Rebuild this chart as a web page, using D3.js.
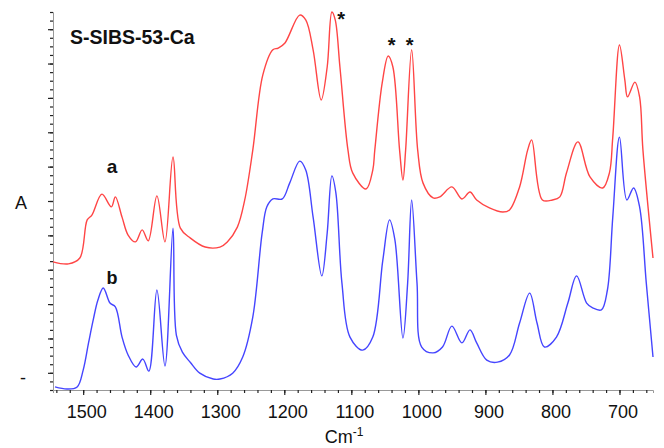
<!DOCTYPE html>
<html>
<head>
<meta charset="utf-8">
<script src="https://cdn.jsdelivr.net/npm/d3@7"></script>
<style>
  body { margin: 0; background: #fff; }
  text { font-family: "Liberation Sans", Arial, sans-serif; fill: #111; }
</style>
</head>
<body>
<div id="chart"></div>
<script>
// Spectrum a (red, offset upward) - [wavenumber, absorbance]
const spectrumA = [
  [1545, 0.323], [1522, 0.317], [1505, 0.334], [1494, 0.445], [1487, 0.459],
  [1472, 0.520], [1458, 0.483], [1452, 0.512], [1442, 0.453], [1433, 0.401],
  [1422, 0.381], [1412, 0.416], [1403, 0.384], [1390, 0.515], [1378, 0.381],
  [1366, 0.628], [1355, 0.421], [1340, 0.392], [1318, 0.366], [1296, 0.366],
  [1285, 0.381], [1270, 0.424], [1259, 0.503], [1247, 0.648], [1232, 0.867],
  [1217, 0.940], [1209, 0.945], [1199, 0.960], [1177, 1.041], [1168, 1.027],
  [1157, 0.940], [1145, 0.794], [1136, 0.890], [1129, 1.050], [1124, 1.027],
  [1117, 0.890], [1105, 0.648], [1098, 0.582], [1078, 0.535], [1068, 0.590],
  [1065, 0.648], [1054, 0.843], [1045, 0.922], [1038, 0.890], [1028, 0.648],
  [1023, 0.561], [1019, 0.648], [1010, 0.940], [1001, 0.648], [993, 0.552],
  [978, 0.509], [968, 0.512], [950, 0.541], [935, 0.506], [923, 0.526],
  [913, 0.503], [894, 0.480], [874, 0.468], [864, 0.474], [849, 0.541],
  [837, 0.648], [831, 0.678], [815, 0.503], [800, 0.503], [789, 0.512],
  [779, 0.582], [762, 0.672], [744, 0.570], [725, 0.538], [715, 0.582],
  [710, 0.686], [700, 0.954], [692, 0.852], [688, 0.803], [677, 0.846],
  [670, 0.803], [665, 0.648], [650, 0.334]
]

// Spectrum b (blue, baseline)
const spectrumB = [
  [1542, -0.041], [1524, -0.047], [1509, -0.041], [1500, 0.008], [1492, 0.087],
  [1485, 0.154], [1478, 0.212], [1470, 0.247], [1460, 0.203], [1452, 0.192],
  [1442, 0.104], [1433, 0.052], [1421, 0.017], [1411, 0.040], [1402, 0.005],
  [1390, 0.241], [1378, 0.020], [1366, 0.421], [1361, 0.110], [1352, 0.060],
  [1340, 0.030], [1326, -0.001], [1306, -0.018], [1296, -0.018], [1277, -0.001],
  [1262, 0.046], [1247, 0.162], [1233, 0.407], [1226, 0.483], [1217, 0.506],
  [1203, 0.506], [1192, 0.552], [1177, 0.616], [1168, 0.590], [1157, 0.453],
  [1144, 0.282], [1136, 0.407], [1129, 0.573], [1123, 0.523], [1114, 0.261],
  [1102, 0.104], [1083, 0.066], [1068, 0.104], [1053, 0.328], [1043, 0.445],
  [1035, 0.387], [1023, 0.101], [1016, 0.261], [1010, 0.503], [1002, 0.261],
  [995, 0.075], [978, 0.058], [964, 0.075], [950, 0.136], [935, 0.087],
  [923, 0.125], [913, 0.087], [898, 0.037], [882, 0.031], [864, 0.052],
  [849, 0.145], [834, 0.232], [823, 0.145], [812, 0.075], [794, 0.104],
  [777, 0.203], [764, 0.282], [749, 0.203], [740, 0.189], [727, 0.183],
  [718, 0.241], [710, 0.453], [700, 0.686], [689, 0.503], [679, 0.538],
  [670, 0.483], [660, 0.261], [650, 0.046]
]

const xMajorTicks = [1500, 1400, 1300, 1200, 1100, 1000, 900, 800, 700]
const yMajorTicks = [0, 0.1, 0.2, 0.3, 0.4, 0.5, 0.6, 0.7, 0.8, 0.9, 1.0]

// starred bands
const peakMarks = [[1115, 1.041], [1040, 0.966], [1013, 0.966]]

const width = 664
const height = 448
const margin = { top: 12, right: 11, bottom: 58, left: 53 }

const svg = d3.select('#chart')
  .append('svg')
  .attr('width', width)
  .attr('height', height)

const x = d3.scaleLinear()
  .domain([1545, 650])
  .range([margin.left, width - margin.right])

const y = d3.scaleLinear()
  .domain([-0.05, 1.05])
  .range([height - margin.bottom, margin.top])

// minor ticks every 20 cm-1 and every 0.025 A
const xMinor = d3.range(1540, 649, -20)
const yMinor = d3.range(-0.05, 1.0501, 0.025).map(d => +d.toFixed(3))

function styleAxis (g) {
  g.select('.domain').attr('stroke', '#999').attr('stroke-width', 1)
  g.selectAll('.tick line').attr('stroke', '#222').attr('stroke-width', 1.2)
}

// X axis
const xg = svg.append('g')
  .attr('transform', `translate(0, ${height - margin.bottom})`)
xg.append('g')
  .call(d3.axisBottom(x).tickValues(xMinor).tickSize(3).tickFormat(''))
  .call(styleAxis)
xg.append('g')
  .call(d3.axisBottom(x).tickValues(xMajorTicks).tickSize(5)
    .tickSizeOuter(0).tickPadding(10).tickFormat(d3.format('d')))
  .call(styleAxis)
  .call(g => g.select('.domain').remove())
  .selectAll('text')
  .attr('dx', 3)
  .attr('font-size', 18)
  .attr('font-family', '"Liberation Sans", Arial, sans-serif')
  .attr('fill', '#111')

// Y axis
const yg = svg.append('g')
  .attr('transform', `translate(${margin.left}, 0)`)
yg.append('g')
  .call(d3.axisLeft(y).tickValues(yMinor).tickSize(3).tickFormat(''))
  .call(styleAxis)
yg.append('g')
  .call(d3.axisLeft(y).tickValues(yMajorTicks).tickSize(5).tickFormat(''))
  .call(styleAxis)
  .call(g => g.select('.domain').remove())

// Spectra
const line = d3.line()
  .x(d => x(d[0]))
  .y(d => y(d[1]))
  .curve(d3.curveCatmullRom.alpha(0.5))

svg.append('path')
  .datum(spectrumA)
  .attr('d', line)
  .attr('fill', 'none')
  .attr('stroke', '#ff4545')
  .attr('stroke-width', 1.4)

svg.append('path')
  .datum(spectrumB)
  .attr('d', line)
  .attr('fill', 'none')
  .attr('stroke', '#4545ff')
  .attr('stroke-width', 1.4)

// Labels
svg.append('text')
  .attr('x', 70)
  .attr('y', 44)
  .attr('font-size', 19.5)
  .attr('font-weight', 'bold')
  .text('S-SIBS-53-Ca')

svg.append('text')
  .attr('x', 112)
  .attr('y', 173)
  .attr('text-anchor', 'middle')
  .attr('font-size', 19)
  .attr('font-weight', 'bold')
  .text('a')

svg.append('text')
  .attr('x', 112)
  .attr('y', 284)
  .attr('text-anchor', 'middle')
  .attr('font-size', 18)
  .attr('font-weight', 'bold')
  .text('b')

svg.selectAll('text.star')
  .data(peakMarks)
  .enter()
  .append('text')
  .attr('class', 'star')
  .attr('x', d => x(d[0]))
  .attr('y', d => y(d[1]) + 11)
  .attr('text-anchor', 'middle')
  .attr('font-size', 20)
  .attr('font-weight', 'bold')
  .text('*')

svg.append('text')
  .attr('x', 21)
  .attr('y', 209)
  .attr('text-anchor', 'middle')
  .attr('font-size', 18)
  .text('A')

svg.append('text')
  .attr('x', 23)
  .attr('y', y(-0.018) + 5)
  .attr('text-anchor', 'middle')
  .attr('font-size', 18)
  .text('-')

const xLabel = svg.append('text')
  .attr('x', 344)
  .attr('y', 443)
  .attr('text-anchor', 'middle')
  .attr('font-size', 18)
xLabel.append('tspan').text('Cm')
xLabel.append('tspan')
  .attr('dy', -7)
  .attr('font-size', 12)
  .text('-1')
</script>
</body>
</html>
